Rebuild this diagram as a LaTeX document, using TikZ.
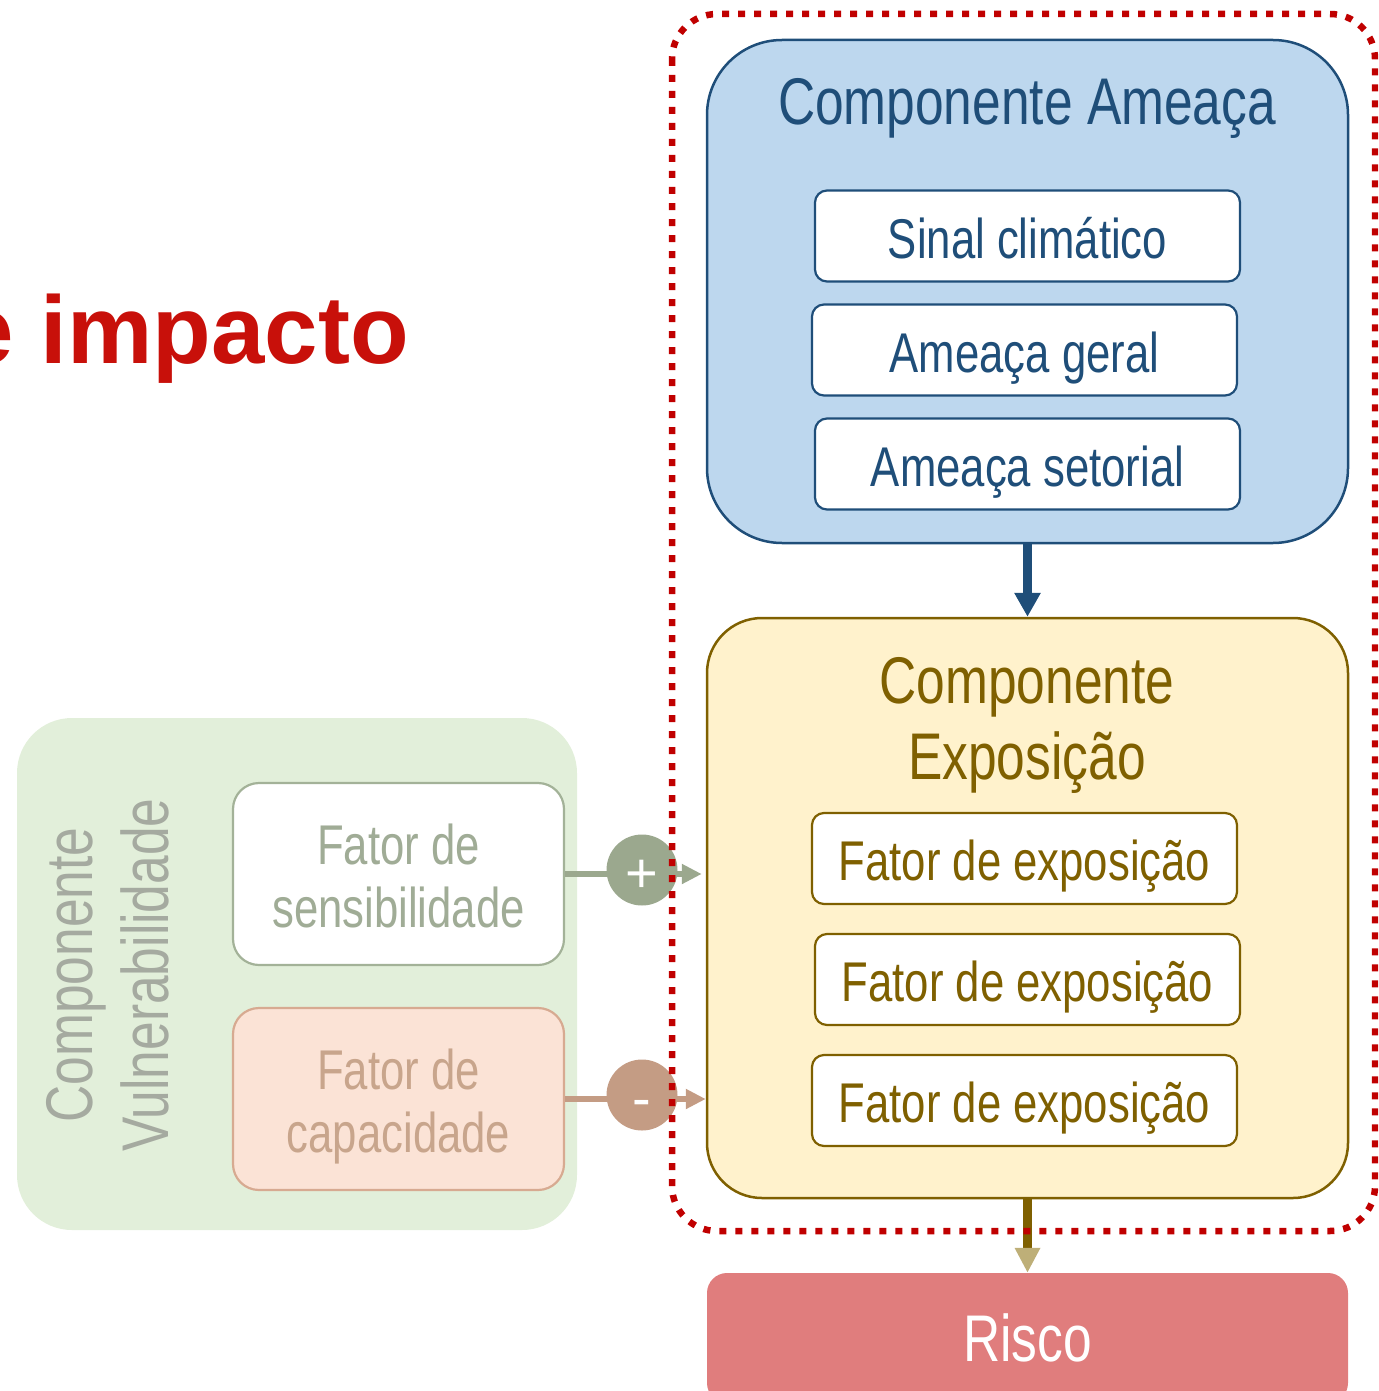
\documentclass[tikz,border=0pt]{standalone}
\usepackage{fontspec}
\setmainfont[FakeStretch=0.78]{Liberation Sans}
\newfontfamily\plainsans{Liberation Sans}
\usetikzlibrary{arrows.meta}
\definecolor{dotred}{RGB}{192,0,0}
\definecolor{amfill}{RGB}{189,215,238}
\definecolor{amline}{RGB}{31,78,121}
\definecolor{exfill}{RGB}{255,242,204}
\definecolor{exline}{RGB}{127,96,0}
\definecolor{riscofill}{RGB}{224,125,125}
\definecolor{vulfill}{RGB}{226,239,218}
\definecolor{vultext}{RGB}{165,170,160}
\definecolor{sensline}{RGB}{163,178,152}
\definecolor{senstext}{RGB}{160,172,150}
\definecolor{sensdot}{RGB}{155,168,142}
\definecolor{capfill}{RGB}{251,227,214}
\definecolor{capline}{RGB}{215,170,145}
\definecolor{captext}{RGB}{200,165,140}
\definecolor{capdot}{RGB}{196,156,132}
\definecolor{tanhead}{RGB}{190,175,120}
\definecolor{titlered}{RGB}{200,16,10}
\tikzset{
  bigtitle/.style={font=\fontsize{66}{76}\selectfont, align=center, inner sep=0pt},
  inbox/.style={draw, fill=white, line width=2.2pt, rounded corners=12pt, minimum width=425pt, minimum height=91pt, inner sep=0pt, text height=44pt, text depth=0pt, font=\fontsize{56}{63}\selectfont},
  amboxin/.style={inbox, draw=amline, text=amline},
  exboxin/.style={inbox, draw=exline, text=exline},
  sidebox/.style={draw, line width=2.2pt, rounded corners=26pt, minimum width=331pt, minimum height=182pt, inner sep=0pt, align=center, font=\fontsize{56}{63}\selectfont},
  sidetext/.style={inner sep=0pt, align=center, font=\fontsize{56}{63}\selectfont},
  sign/.style={circle, minimum size=71pt, inner sep=0pt},
  signtext/.style={inner sep=0pt, text=white, font=\plainsans\fontsize{56}{60}\selectfont},
}
\begin{document}
\begin{tikzpicture}[x=1pt,y=-1pt]
\useasboundingbox (0,0) rectangle (1378,1391);
\clip (0,0) rectangle (1378,1391);

% vulnerability group
\node[fill=vulfill, rounded corners=55pt, minimum width=560pt, minimum height=512pt, inner sep=0pt] (vul) at (297,974) {};
\node[rotate=90, bigtitle, text=vultext] (vultitle) at (108,975) {Componente\\Vulnerabilidade};
\node[sidebox, fill=white, draw=sensline] (sens) at (398.5,874) {};
\node[sidetext, text=senstext] (senstxt) at (398.5,876) {Fator de\\sensibilidade};
\node[sidebox, fill=capfill, draw=capline] (cap) at (398.5,1099) {};
\node[sidetext, text=captext] (captxt) at (398.5,1101) {Fator de\\ca\smash{p}acidade};

% exposure component (node needed for arrows)
\node[draw=exline, fill=exfill, line width=2.5pt, rounded corners=55pt, minimum width=641pt, minimum height=580pt, inner sep=0pt] (expo) at (1027.5,908) {};

% arrows from vulnerability
\draw[sensdot, line width=6pt, shorten >=4pt, -{Triangle[width=19pt,length=20pt]}] (sens.east) -- (expo.west |- sens.east);
\draw[capdot, line width=6pt, -{Triangle[width=19pt,length=20pt]}] (cap.east) -- (expo.west |- cap.east);
\node[sign, fill=sensdot] (plus) at (642,870) {};
\node[signtext] (plustext) at (642,876) {+};
\node[sign, fill=capdot] (minus) at (642,1095) {};
\node[signtext] (minustext) at (642,1109) {-};

% hazard component
\node[draw=amline, fill=amfill, line width=2.5pt, rounded corners=75pt, minimum width=641pt, minimum height=503pt, inner sep=0pt] (amea) at (1027.5,291.5) {};
\node[bigtitle, text=amline] (ametitle) at (1027,108) {Componente Ameaça};
\node[amboxin] (sinal) at (1027.5,236) {Sinal climático};
\node[amboxin] (geral) at (1024.5,350) {Ameaça geral};
\node[amboxin] (setor) at (1027.5,464) {Ameaça setorial};

% exposure content
\node[bigtitle, text=exline] (expotitle) at (1027,725) {Componente\\Exposição};
\node[exboxin] (f1) at (1024.5,858.5) {Fator de exposição};
\node[exboxin] (f2) at (1027.5,979.5) {Fator de exposição};
\node[exboxin] (f3) at (1024.5,1100.5) {Fator de exposição};

% risk
\node[fill=riscofill, rounded corners=20pt, minimum width=641pt, minimum height=130pt, inner sep=0pt, text=white, font=\fontsize{66}{76}\selectfont] (risco) at (1027.5,1338) {Risco};

% vertical arrows
\draw[amline, line width=8.5pt, -{Triangle[width=25pt,length=24pt]}] (amea.south) -- (expo.north);
\draw[exline, line width=8.5pt, -{Triangle[width=24pt,length=25pt,color=tanhead]}] (expo.south) -- (risco.north);

% dotted frame
\draw[dotred, line width=6.5pt, dash pattern=on 7pt off 9pt, rounded corners=45pt] (672,14) rectangle (1375,1231);

% title fragment
\node[anchor=base east, inner sep=0pt, text=titlered, font=\plainsans\bfseries\fontsize{96}{110}\selectfont] (title) at (409,363) {e impacto};
\end{tikzpicture}
\end{document}
